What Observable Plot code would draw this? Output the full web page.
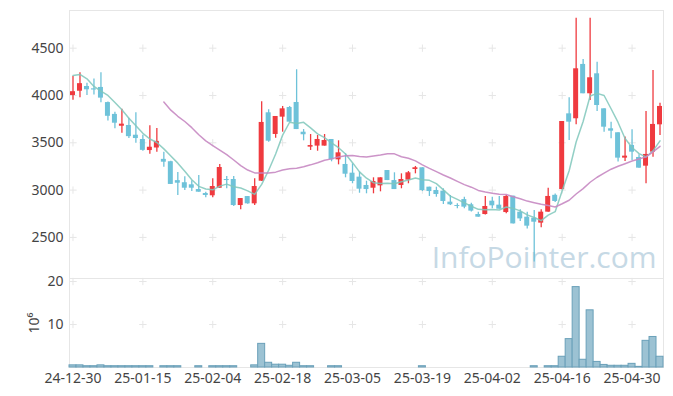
<!DOCTYPE html>
<html><head><meta charset="utf-8">
<script src="https://cdn.jsdelivr.net/npm/d3@7"></script>
<script src="https://cdn.jsdelivr.net/npm/@observablehq/plot@0.6"></script>
<style>
body{margin:0;background:#fff}
#chart{position:relative;width:673px;height:396px;font-family:"Noto Sans",sans-serif;overflow:hidden}
#chart svg{display:block;position:absolute;left:0}
</style>
</head><body><div id="chart"></div>
<script>
const dates = ["24-12-30","25-01-02","25-01-03","25-01-06","25-01-07","25-01-08","25-01-09","25-01-10","25-01-13","25-01-14",
"25-01-15","25-01-16","25-01-17","25-01-20","25-01-21","25-01-22","25-01-23","25-01-24","25-01-31","25-02-03",
"25-02-04","25-02-05","25-02-06","25-02-07","25-02-10","25-02-11","25-02-12","25-02-13","25-02-14","25-02-17",
"25-02-18","25-02-19","25-02-20","25-02-21","25-02-24","25-02-25","25-02-26","25-02-27","25-02-28","25-03-04",
"25-03-05","25-03-06","25-03-07","25-03-10","25-03-11","25-03-12","25-03-13","25-03-14","25-03-17","25-03-18",
"25-03-19","25-03-20","25-03-21","25-03-24","25-03-25","25-03-26","25-03-27","25-03-28","25-03-31","25-04-01",
"25-04-02","25-04-03","25-04-04","25-04-07","25-04-08","25-04-09","25-04-10","25-04-11","25-04-14","25-04-15",
"25-04-16","25-04-17","25-04-18","25-04-21","25-04-22","25-04-23","25-04-24","25-04-25","25-04-28","25-04-29",
"25-04-30","25-05-02","25-05-07","25-05-08","25-05-09"];
const open = [4000,4045,4095,4070,4085,3925,3800,3675,3683,3580,
3535,3418,3445,3325,3300,3100,3078,3056,3006,2964,
2940,3020,3112,3112,2837,2932,2855,3094,3817,3588,
3771,3873,3926,3612,3454,3465,3465,3535,3320,3271,
3179,3137,3049,3020,3045,3207,3101,3049,3105,3218,
3236,3031,2996,2989,2873,2837,2900,2845,2742,2742,
2883,2841,2763,2936,2767,2714,2703,2651,2767,2945,
3006,3806,3754,4328,4018,4229,3859,3648,3606,3338,
3472,3345,3253,3401,3690];
const high = [4200,4240,4130,4175,4240,3930,3824,3855,3760,3817,
3580,3680,3650,3400,3305,3185,3140,3100,3154,2978,
3120,3271,3144,3144,2911,2932,3120,3933,3849,3778,
3884,3884,4272,3640,3588,3577,3588,3535,3521,3384,
3278,3189,3094,3130,3130,3207,3183,3172,3197,3250,
3236,3031,3031,3014,2943,2855,2925,2862,2767,2933,
2925,2933,2943,2936,2792,2767,2785,2792,3020,2960,
3725,3976,4817,4380,4817,4352,3859,3718,3606,3560,
3637,3373,3831,4265,3919];
const low = [3950,3975,4000,4005,3923,3730,3648,3600,3545,3496,
3410,3380,3400,3242,3058,2942,2996,2985,2978,2919,
2919,3020,3014,2827,2792,2850,2837,3090,3506,3549,
3612,3718,3640,3521,3419,3411,3465,3299,3267,3130,
3067,2967,2961,2961,2982,3101,3006,3014,3067,3172,
2985,2933,2925,2848,2837,2802,2802,2768,2714,2738,
2802,2798,2749,2643,2668,2590,2240,2602,2767,2870,
3000,3524,3690,4018,3947,3831,3612,3542,3296,3303,
3313,3232,3067,3348,3577];
const close = [4040,4125,4060,4058,3972,3780,3707,3697,3565,3545,
3420,3453,3515,3295,3060,3073,3020,3020,2978,2943,
3038,3239,3101,2837,2911,2855,3038,3715,3517,3778,
3859,3718,3640,3585,3471,3535,3524,3320,3394,3168,
3091,3010,3006,3091,3130,3101,3006,3112,3183,3236,
2996,2985,2954,2880,2845,2827,2820,2778,2714,2827,
2834,2798,2933,2643,2696,2619,2661,2767,2933,2880,
3725,3718,4282,4018,4187,3894,3665,3623,3338,3359,
3401,3232,3377,3694,3884];
// volume in millions of shares
const volume = [0.5,0.5,0.3,0.3,0.5,0.3,0.3,0.3,0.3,0.3,
0.3,0.3,0,0.3,0.3,0.3,0,0,0.3,0,
0.3,0.3,0.3,0.3,0,0,0.5,5.5,1.1,0.65,
0.65,0.4,1.1,0.3,0.3,0,0,0.3,0.3,0,
0,0,0,0,0,0,0,0,0,0,
0.3,0,0,0,0,0,0,0,0,0,
0,0,0,0,0,0,0.3,0,0.3,0.3,
2.5,6.6,18.7,1.8,13.3,1.3,0.6,0.4,0.4,0.4,
0.85,0.15,6.2,7.1,2.5];
const ma5 = [4211,4222,4176,4095,4045,4000,3925,3849,3760,3680,
3600,3540,3503,3436,3360,3285,3200,3110,3040,3012,
3003,3042,3063,3036,3022,2992,2955,3060,3210,3381,
3581,3717,3705,3716,3658,3594,3555,3498,3448,3382,
3290,3193,3126,3078,3070,3072,3067,3088,3106,3128,
3110,3103,3069,3003,2937,2902,2865,2830,2797,2793,
2795,2790,2821,2807,2781,2738,2710,2677,2735,2772,
2993,3205,3508,3725,3995,4022,4000,3860,3715,3545,
3450,3385,3350,3415,3520];
const ma20 = [null,null,null,null,null,null,null,null,null,null,
null,null,null,3930,3845,3780,3725,3660,3585,3520,
3470,3422,3374,3318,3258,3212,3182,3181,3180,3190,
3212,3226,3232,3246,3267,3290,3315,3330,3351,3362,
3365,3355,3350,3361,3372,3385,3383,3353,3336,3309,
3266,3229,3195,3160,3128,3093,3058,3031,2997,2980,
2967,2956,2953,2930,2908,2884,2867,2850,2837,2822,
2856,2893,2959,3016,3083,3136,3179,3221,3252,3279,
3307,3329,3351,3403,3463];
const priceTicks = [2500,3000,3500,4000,4500];
const volumeTicks = [10,20];
const dateTicks = ["24-12-30","25-01-15","25-02-04","25-02-18","25-03-05","25-03-19","25-04-02","25-04-16","25-04-30"];

const UP = "#ef3a3f", DOWN = "#6ec2d9";
const rows = dates.map((d,i)=>({date:d, open:open[i], high:high[i], low:low[i], close:close[i],
  volume:volume[i], ma5:ma5[i], ma20:ma20[i], color: close[i] >= open[i] ? UP : DOWN}));
const priceGrid = dateTicks.flatMap(d => priceTicks.map(v => ({date:d, v})));
const volGrid = dateTicks.flatMap(d => volumeTicks.map(v => ({date:d, v})));
const font = '"Noto Sans", sans-serif';
const tickColor = "#444";

const price = Plot.plot({
  width:673, height:278, marginTop:10, marginBottom:0, marginLeft:69, marginRight:10,
  style:{fontFamily:font, fontSize:"14px", color:tickColor, background:"transparent", overflow:"visible"},
  x:{type:"band", domain:dates, padding:0, axis:null},
  y:{domain:[2066,4898], axis:null},
  marks:[
    Plot.frame({stroke:"#e6e6e6"}),
    Plot.dot(priceGrid, {x:"date", y:"v", symbol:"plus", r:2.5, stroke:"#e6e6e6", strokeWidth:1}),
    Plot.text(["InfoPointer.com"], {frameAnchor:"bottom-right", dx:-7, dy:-11, fontSize:30, fill:"#c6d9e5", fontFamily:'"Open Sans", sans-serif'}),
    Plot.axisY({ticks:priceTicks, tickSize:0, tickPadding:6, tickFormat:d=>String(d), fontSize:14, label:null}),
    Plot.ruleX(rows, {x:"date", y1:"low", y2:"high", stroke:"color", strokeWidth:1.3}),
    Plot.barY(rows, {x:"date", y1:"open", y2:"close", fill:"color", insetLeft:1, insetRight:1}),
    Plot.line(rows, {filter:d=>d.ma5!=null, x:"date", y:"ma5", stroke:"#7fc7bb", strokeWidth:1.5, strokeOpacity:0.85}),
    Plot.line(rows, {filter:d=>d.ma20!=null, x:"date", y:"ma20", stroke:"#c688c2", strokeWidth:1.5, strokeOpacity:0.9})
  ]
});
price.style.top = "0px";

const vol = Plot.plot({
  width:673, height:128, marginTop:10, marginBottom:29, marginLeft:69, marginRight:10,
  style:{fontFamily:font, fontSize:"14px", color:tickColor, background:"transparent"},
  x:{type:"band", domain:dates, padding:0, axis:null},
  y:{domain:[0,20.7], axis:null},
  marks:[
    Plot.frame({stroke:"#e6e6e6"}),
    Plot.dot(volGrid, {x:"date", y:"v", symbol:"plus", r:2.5, stroke:"#e6e6e6", strokeWidth:1}),
    Plot.barY(rows, {x:"date", y:"volume", fill:"#9cc2d3", stroke:"#6aa0b9", strokeWidth:1}),
    Plot.axisX({ticks:dateTicks, tickSize:0, tickPadding:6, fontSize:14, label:null}),
    Plot.axisY({ticks:volumeTicks, tickSize:0, tickPadding:6, fontSize:14, label:"10⁶", labelAnchor:"center", labelOffset:40, labelArrow:"none"})
  ]
});
vol.style.top = "268px";

const root = document.getElementById("chart");
root.appendChild(price);
root.appendChild(vol);
</script>
</body></html>
